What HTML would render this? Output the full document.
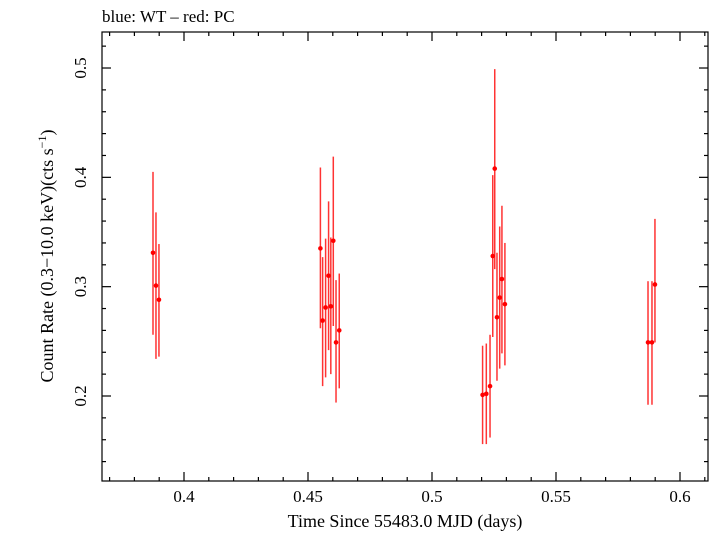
<!DOCTYPE html>
<html><head><meta charset="utf-8"><style>
body{margin:0;background:#fff;width:709px;height:532px;overflow:hidden}
text{font-family:"Liberation Serif","DejaVu Serif",serif;fill:#000}
</style></head><body>
<svg id="chart" width="709" height="532" xmlns="http://www.w3.org/2000/svg">
<text x="102" y="22" font-size="17">blue: WT – red: PC</text>
<rect x="102" y="32" width="606" height="449" fill="none" stroke="#000" stroke-width="1.2"/>
<g id="ticks"></g>
<g id="marks"></g>
<text x="405" y="527" font-size="18" text-anchor="middle">Time Since 55483.0 MJD (days)</text>
<text transform="translate(53,256) rotate(-90)" font-size="18" text-anchor="middle">Count Rate (0.3−10.0 keV)(cts s<tspan dy="-7" font-size="12">−1</tspan><tspan dy="7">)</tspan></text>
</svg>
<script>
const times=[0.3875,0.3887,0.3899,0.4550,0.4559,0.4571,0.4583,0.4592,0.4602,0.4613,0.4626,0.5204,0.5219,0.5234,0.5245,0.5253,0.5262,0.5273,0.5282,0.5294,0.5871,0.5887,0.5899];
const rates=[0.331,0.301,0.288,0.335,0.269,0.281,0.310,0.282,0.342,0.249,0.260,0.201,0.202,0.209,0.328,0.408,0.272,0.290,0.307,0.284,0.249,0.249,0.302];
const ratesHi=[0.405,0.368,0.339,0.409,0.327,0.344,0.378,0.345,0.419,0.306,0.312,0.246,0.248,0.256,0.402,0.499,0.331,0.355,0.374,0.340,0.305,0.305,0.362];
const ratesLo=[0.256,0.234,0.236,0.262,0.209,0.217,0.242,0.220,0.264,0.194,0.207,0.156,0.156,0.162,0.254,0.316,0.214,0.225,0.239,0.228,0.192,0.192,0.249];
const xTicks=["0.4","0.45","0.5","0.55","0.6"];
const yTicks=["0.2","0.3","0.4","0.5"];
const L=102,R=708,T=32,B=481;
const X=t=>184+(t-0.4)*2480;
const Y=v=>396-(v-0.2)*1093.3;
const NS="http://www.w3.org/2000/svg";
function mk(tag,attrs,parent){const e=document.createElementNS(NS,tag);for(const k in attrs)e.setAttribute(k,attrs[k]);parent.appendChild(e);return e;}
const tg=document.getElementById('ticks');
for(let i=36;i<=61;i++){const t=i/100,x=X(t);if(x<L||x>R)continue;const major=i%5===0;const len=major?9:4;
 const a=mk('line',{x1:x,x2:x,y1:B,y2:B-len,stroke:'#000','stroke-width':1.2},tg);
 
 const b=mk('line',{x1:x,x2:x,y1:T,y2:T+len,stroke:'#000','stroke-width':1.2},tg);
 }
xTicks.forEach(s=>{const tx=mk('text',{x:X(parseFloat(s)),y:502,'font-size':17,'text-anchor':'middle'},tg);tx.textContent=s;
 });
for(let i=6;i<=27;i++){const v=i/50,y=Y(v);if(y<T||y>B)continue;const major=i%5===0;const len=major?9:4;
 const a=mk('line',{x1:L,x2:L+len,y1:y,y2:y,stroke:'#000','stroke-width':1.2},tg);
 
 const b=mk('line',{x1:R,x2:R-len,y1:y,y2:y,stroke:'#000','stroke-width':1.2},tg);
 }
yTicks.forEach(s=>{const y=Y(parseFloat(s));const tx=mk('text',{transform:`translate(86,${y}) rotate(-90)`,'font-size':17,'text-anchor':'middle'},tg);tx.textContent=s;
 });
const mg=document.getElementById('marks');
times.forEach((t,i)=>{const x=X(t);
 const e=mk('line',{x1:x,x2:x,y1:Y(ratesHi[i]),y2:Y(ratesLo[i]),stroke:'#f00','stroke-width':1.5,'stroke-opacity':0.8},mg);
 
 const p=mk('circle',{cx:x,cy:Y(rates[i]),r:2.3,fill:'#f00'},mg);
 });
</script>
</body></html>
